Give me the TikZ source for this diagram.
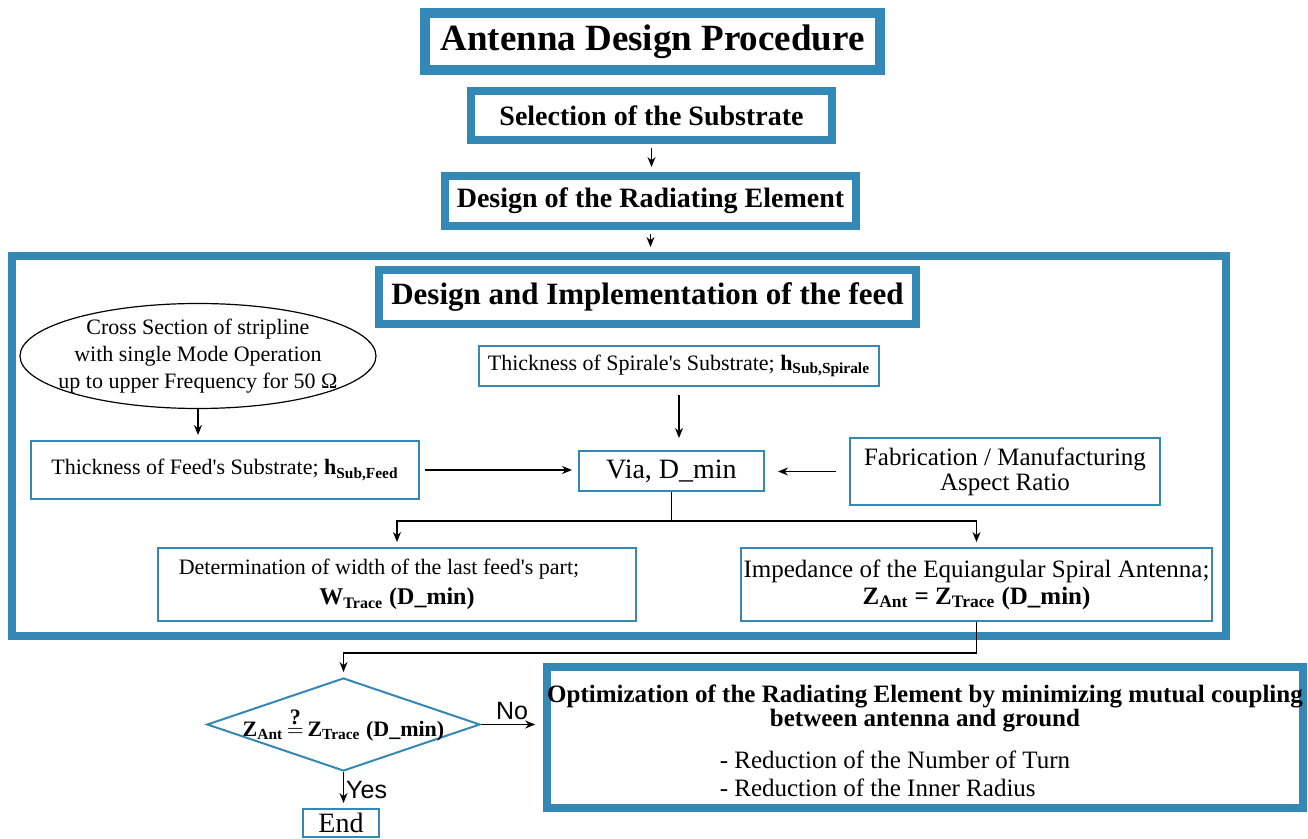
\documentclass[tikz,border=0pt]{standalone}
\usepackage{fontspec}
\setmainfont{Liberation Serif}
\newfontfamily\labelsans{Liberation Sans}
\usetikzlibrary{arrows.meta,shapes.geometric}
\definecolor{frameblue}{RGB}{52,136,182}
\newcommand{\setfs}[2]{\fontsize{#1}{#2}\selectfont}

\begin{document}
\begin{tikzpicture}[x=0.5pt,y=-0.5pt,
  thickbox/.style={draw=frameblue,line width=4pt,fill=white,inner sep=0pt,align=center},
  thinbox/.style={draw=frameblue,line width=1pt,inner sep=0pt,align=center},
  arr/.style={-{Stealth[length=5pt,width=4pt]},line width=0.7pt,shorten >=2.5pt}]
\useasboundingbox (0,0) rectangle (1308,839); % same size as the reference

% headings
\node[thickbox,line width=5pt,minimum width=227.5pt,minimum height=28.5pt,font=\bfseries\setfs{18.5}{22}] (title) at (652.5,41.5) {Antenna Design Procedure};
\node[thickbox,minimum width=180.5pt,minimum height=24.5pt,font=\bfseries\setfs{14}{17}] (subst) at (651.5,115.5) {Selection of the Substrate};
\node[thickbox,minimum width=205.5pt,minimum height=25pt,font=\bfseries\setfs{14}{17}] (radiat) at (650.5,201) {Design of the Radiating Element};

% feed block
\node[thickbox,fill=none,minimum width=607pt,minimum height=190pt] (frame) at (619,446) {};
\node[thickbox,minimum width=268.5pt,minimum height=27pt,font=\bfseries\setfs{15.5}{18}] (impl) at (647.5,297) {Design and Implementation of the feed};
\node[draw,ellipse,line width=0.6pt,minimum width=178pt,minimum height=52.5pt,inner sep=0pt,
  label={[align=center,font=\setfs{11}{13.5}]center:{Cross Section of stripline\\with single Mode Operation\\up to upper Frequency for 50 Ω}}] (stripline) at (198,356) {};
\node[thinbox,minimum width=194pt,minimum height=29pt,font=\setfs{11}{13}] (feed) at (225,470) {Thickness of Feed\textquotesingle s Substrate; \textbf{h\textsubscript{Sub,Feed}}};
\node[thinbox,minimum width=200pt,minimum height=20pt,font=\setfs{11}{13}] (spiral) at (679,366) {Thickness of Spirale\textquotesingle s Substrate; \textbf{h\textsubscript{Sub,Spirale}}};
\node[thinbox,minimum width=92.5pt,minimum height=20pt,font=\setfs{14}{16}] (via) at (671.5,471) {Via, D\_min};
\node[thinbox,minimum width=155pt,minimum height=33.5pt,font=\setfs{12.5}{12.5}] (fab) at (1005,471.5) {Fabrication / Manufacturing\\Aspect Ratio};
\node[thinbox,minimum width=239pt,minimum height=36.5pt,font=\setfs{11}{15}] (det) at (397,584.5) {Determination of width of the last feed\textquotesingle s part;\hspace*{18pt}\\\textbf{\setfs{12}{15}W\textsubscript{Trace} (D\_min)}};
\node[thinbox,minimum width=235.5pt,minimum height=36.5pt,font=\setfs{12.5}{13.5}] (imped) at (976.5,584.5) {Impedance of the Equiangular Spiral Antenna;\\\textbf{Z\textsubscript{Ant} = Z\textsubscript{Trace} (D\_min)}};

% check and loop
\node[draw=frameblue,line width=1pt,diamond,minimum width=136.5pt,minimum height=46.5pt,inner sep=0pt,
  label={[font=\bfseries\setfs{11}{13}]center:{Z\textsubscript{Ant}\,$\stackrel{\mbox{\bfseries ?}}{=}$\,Z\textsubscript{Trace} (D\_min)}}] (dec) at (343.5,724.5) {};
\node[thickbox,minimum width=376pt,minimum height=70.5pt,font=\setfs{12.5}{12}] (opt) at (925,737.5)
  {\textbf{\rule{0pt}{16pt}Optimization of the Radiating Element by minimizing mutual coupling}\\\textbf{between antenna and ground}\\[8pt]
   \begin{tabular}{@{}l@{}}- Reduction of the Number of Turn\\[2pt]- Reduction of the Inner Radius\end{tabular}\hspace*{30pt}};
\node[thinbox,minimum width=38pt,minimum height=14pt,font=\setfs{14}{14}] (end) at (341,823) {End};

% connectors
\draw[arr,shorten <=2pt] (subst.south) -- (subst.south |- radiat.north);
\draw[arr,shorten <=2pt] (radiat.south) -- (radiat.south |- frame.north);
\draw[arr] (stripline.south) -- (stripline.south |- feed.north);
\draw[arr,shorten <=4pt,shorten >=6pt] (spiral.south) -- (spiral.south |- via.north);
\draw[arr,shorten <=2.5pt,shorten >=3pt] (feed.east) -- (feed.east -| via.west);
\draw[arr,shorten <=6.5pt,shorten >=6.5pt] (fab.west) -- (fab.west -| via.east);
\draw[line width=0.7pt] (via.south) -- ++(0,29) coordinate (split);
\draw[arr] (split) -| (det.north);
\draw[arr] (split) -| (imped.north);
\draw[arr] (imped.south) -- ++(0,31) -| (dec.north);
\draw[arr,shorten >=4pt] (dec.east) -- (dec.east -| opt.west) node[midway,above,inner sep=2pt,font=\labelsans\setfs{12.5}{12.5}] {No};
\draw[arr] (dec.south) -- (dec.south |- end.north) node[midway,right,inner sep=1pt,font=\labelsans\setfs{12.5}{12.5}] {Yes};
\end{tikzpicture}
\end{document}
